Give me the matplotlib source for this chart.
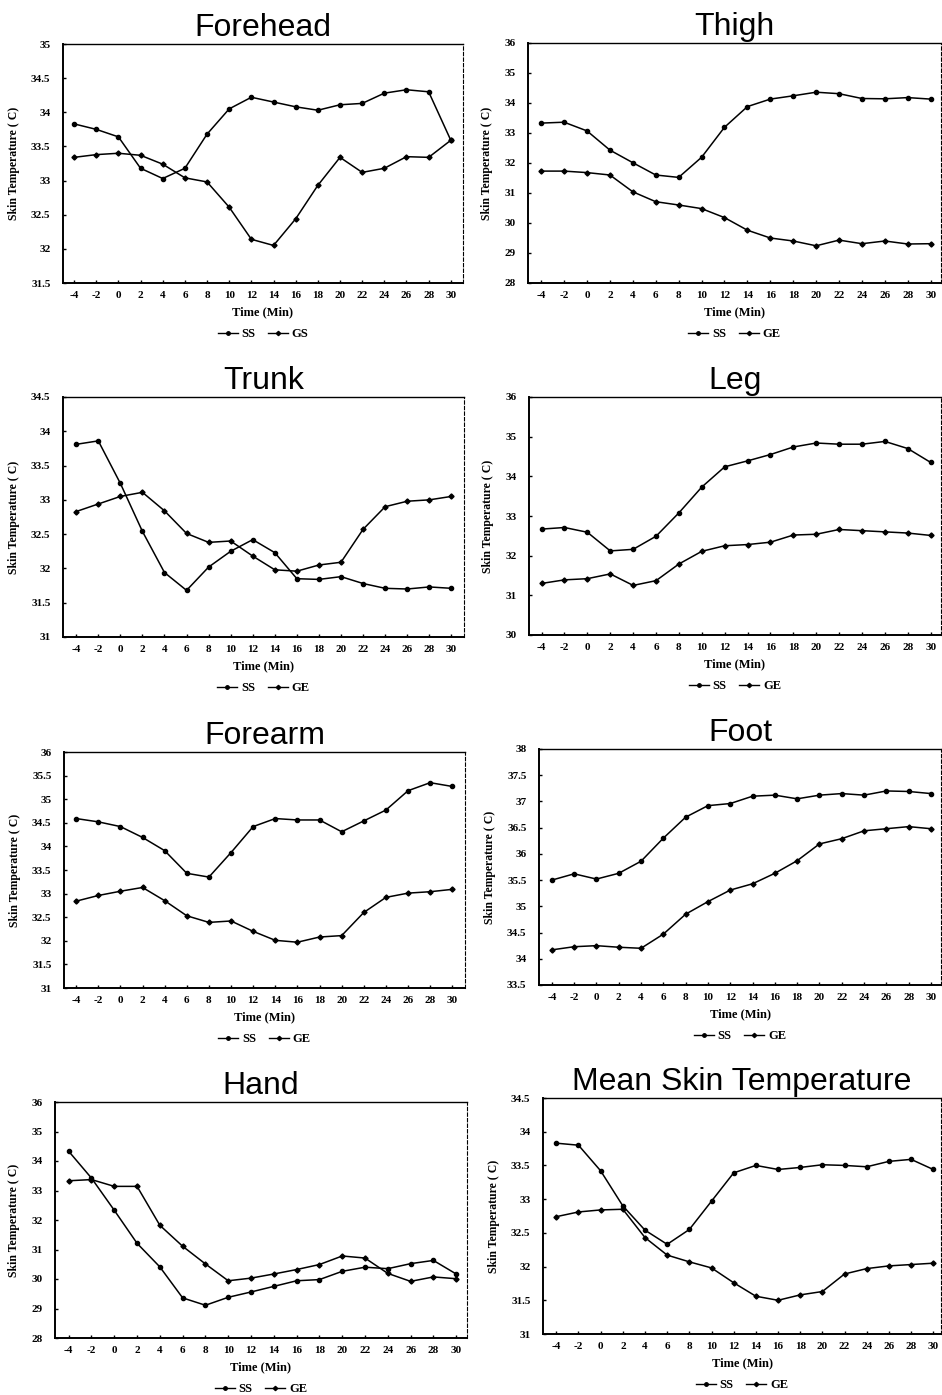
import matplotlib
matplotlib.use('Agg')
import matplotlib.pyplot as plt
from matplotlib.lines import Line2D
from matplotlib.ticker import FormatStrFormatter, MultipleLocator

plt.rcParams['axes.unicode_minus'] = False

# time points (min)
time = [-4, -2, 0, 2, 4, 6, 8, 10, 12, 14, 16, 18, 20, 22, 24, 26, 28, 30]

# skin temperature readings
forehead_ss = [33.83, 33.75, 33.64, 33.18, 33.03, 33.18, 33.68, 34.05, 34.22, 34.15,
               34.08, 34.03, 34.11, 34.13, 34.28, 34.33, 34.30, 33.59]
forehead_gs = [33.34, 33.38, 33.40, 33.37, 33.24, 33.04, 32.98, 32.61, 32.14, 32.05,
               32.44, 32.93, 33.34, 33.12, 33.18, 33.35, 33.34, 33.59]

thigh_ss = [33.33, 33.36, 33.07, 32.43, 32.01, 31.60, 31.52, 32.19, 33.19, 33.88,
            34.13, 34.24, 34.36, 34.31, 34.15, 34.14, 34.18, 34.13]
thigh_ge = [31.73, 31.73, 31.68, 31.60, 31.04, 30.71, 30.60, 30.48, 30.18, 29.76,
            29.50, 29.40, 29.24, 29.43, 29.31, 29.40, 29.30, 29.31]

trunk_ss = [33.81, 33.86, 33.24, 32.54, 31.94, 31.68, 32.02, 32.25, 32.42, 32.23,
            31.85, 31.84, 31.88, 31.78, 31.71, 31.70, 31.73, 31.71]
trunk_ge = [32.83, 32.94, 33.05, 33.11, 32.84, 32.51, 32.38, 32.40, 32.18, 31.98,
            31.96, 32.05, 32.09, 32.57, 32.90, 32.98, 33.00, 33.05]

leg_ss = [32.67, 32.71, 32.59, 32.12, 32.16, 32.49, 33.08, 33.73, 34.24, 34.39,
          34.55, 34.74, 34.84, 34.81, 34.81, 34.88, 34.70, 34.35]
leg_ge = [31.30, 31.39, 31.42, 31.54, 31.25, 31.37, 31.79, 32.11, 32.25, 32.28,
          32.34, 32.52, 32.54, 32.66, 32.63, 32.60, 32.57, 32.51]

forearm_ss = [34.59, 34.52, 34.42, 34.19, 33.91, 33.43, 33.35, 33.87, 34.42, 34.59,
              34.56, 34.56, 34.31, 34.54, 34.77, 35.18, 35.35, 35.27]
forearm_ge = [32.84, 32.96, 33.05, 33.13, 32.85, 32.53, 32.39, 32.42, 32.20, 32.01,
              31.97, 32.08, 32.11, 32.60, 32.92, 33.01, 33.04, 33.09]

foot_ss = [35.50, 35.62, 35.52, 35.63, 35.86, 36.30, 36.70, 36.92, 36.96, 37.10,
           37.12, 37.05, 37.12, 37.15, 37.12, 37.20, 37.19, 37.15]
foot_ge = [34.17, 34.23, 34.25, 34.22, 34.20, 34.47, 34.85, 35.09, 35.31, 35.43,
           35.63, 35.87, 36.19, 36.29, 36.44, 36.48, 36.52, 36.48]

hand_ss = [34.33, 33.42, 32.33, 31.21, 30.41, 29.36, 29.11, 29.38, 29.56, 29.75,
           29.94, 29.98, 30.26, 30.40, 30.35, 30.52, 30.63, 30.17]
hand_ge = [33.33, 33.37, 33.14, 33.14, 31.82, 31.11, 30.51, 29.94, 30.03, 30.17,
           30.32, 30.49, 30.78, 30.71, 30.19, 29.92, 30.07, 30.01]

mean_ss = [33.83, 33.80, 33.42, 32.90, 32.54, 32.33, 32.55, 32.97, 33.39, 33.50,
           33.44, 33.47, 33.51, 33.50, 33.48, 33.56, 33.59, 33.44]
mean_ge = [32.74, 32.81, 32.84, 32.85, 32.43, 32.17, 32.07, 31.98, 31.76, 31.56,
           31.50, 31.58, 31.63, 31.89, 31.97, 32.01, 32.03, 32.05]

titles = ['Forehead', 'Thigh', 'Trunk', 'Leg', 'Forearm', 'Foot', 'Hand',
          'Mean Skin Temperature']
series = [(forehead_ss, forehead_gs), (thigh_ss, thigh_ge), (trunk_ss, trunk_ge),
          (leg_ss, leg_ge), (forearm_ss, forearm_ge), (foot_ss, foot_ge),
          (hand_ss, hand_ge), (mean_ss, mean_ge)]
legend_names = [('SS', 'GS')] + [('SS', 'GE')] * 7

# panel boxes in pixels: left, top, right, bottom
boxes = [(63, 44, 463, 283), (528, 43, 941, 283),
         (63, 397, 464, 637), (529, 397, 941, 635),
         (64, 752, 465, 988), (539, 749, 941, 985),
         (55, 1102, 467, 1338), (543, 1098, 941, 1334)]
ylims = [(31.5, 35), (28, 36), (31, 34.5), (30, 36),
         (31, 36), (33.5, 38), (28, 36), (31, 34.5)]
ysteps = [0.5, 1, 0.5, 1, 0.5, 0.5, 1, 0.5]
xlims = [(-5.0, 31.1), (-5.15, 30.9), (-5.2, 31.15), (-5.1, 30.9),
         (-5.1, 31.15), (-5.15, 30.9), (-5.2, 30.95), (-5.2, 30.7)]

W, H = 942, 1395
serif = 'Liberation Serif'
fig = plt.figure(figsize=(W / 100, H / 100), dpi=100)

for i in range(8):
    l, t, r, b = boxes[i]
    ax = fig.add_axes([l / W, 1 - b / H, (r - l) / W, (b - t) / H])
    ss, ge = series[i]
    ax.plot(time, ss, color='black', lw=1.1, marker='o', ms=3)
    ax.plot(time, ge, color='black', lw=1.1, marker='D', ms=2.6)

    ax.set_xlim(*xlims[i])
    ax.set_ylim(*ylims[i])
    ax.set_xticks(time)
    ax.yaxis.set_major_locator(MultipleLocator(ysteps[i]))
    if ysteps[i] == 1:
        ax.yaxis.set_major_formatter(FormatStrFormatter('%d'))
    else:
        ax.yaxis.set_major_formatter(FormatStrFormatter('%g'))
    ax.tick_params(direction='in', length=2.5, width=1, pad=6, labelsize=8)
    ax.tick_params(axis='y', pad=9)
    for lab in ax.get_xticklabels() + ax.get_yticklabels():
        lab.set_fontfamily(serif)
        lab.set_fontweight('bold')

    for side in ['left', 'bottom']:
        ax.spines[side].set_linewidth(1.4)
    ax.spines['top'].set_linewidth(1.0)
    ax.spines['right'].set_linewidth(0.8)
    ax.spines['right'].set_linestyle((0, (3, 2)))

    ax.set_title(titles[i], fontsize=23, fontfamily='Liberation Sans', pad=6)
    ax.set_xlabel('Time (Min)', fontsize=9, fontfamily=serif, fontweight='bold', labelpad=4)
    ax.set_ylabel('Skin Temperature ( C)', fontsize=8.5, fontfamily=serif,
                  fontweight='bold', labelpad=8)

    handles = [Line2D([], [], color='black', lw=1, marker='o', ms=2.5),
               Line2D([], [], color='black', lw=1, marker='D', ms=2.2)]
    cx = (l + r) / 2 / W
    cy = 1 - (b + 51) / H
    fig.legend(handles, legend_names[i], loc='center', bbox_to_anchor=(cx, cy),
               ncol=2, frameon=False, handlelength=1.6, handletextpad=0.3,
               columnspacing=1.0, prop={'family': serif, 'weight': 'bold', 'size': 9})

fig.savefig('out.png', dpi=100)
